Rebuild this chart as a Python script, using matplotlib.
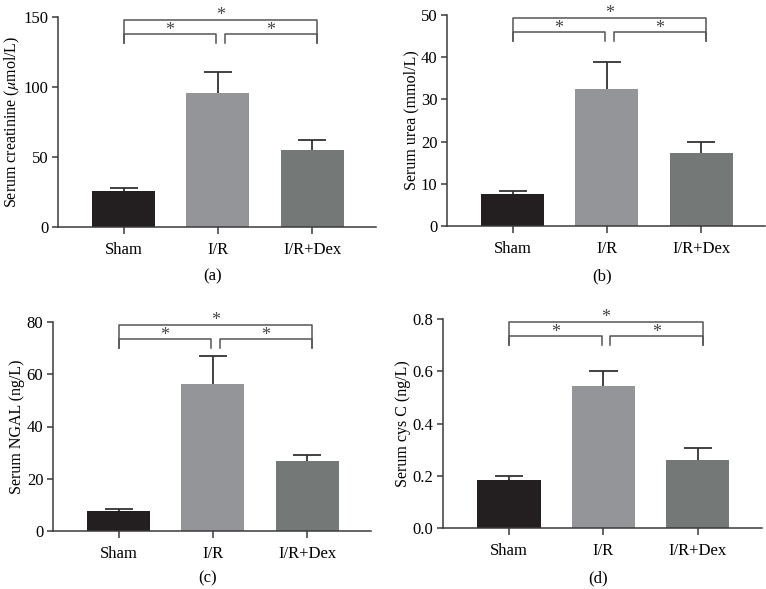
import matplotlib
matplotlib.use('Agg')
import matplotlib.pyplot as plt

plt.rcParams['font.family'] = ['Liberation Serif', 'DejaVu Serif']
plt.rcParams['mathtext.fontset'] = 'stix'

# groups and bar colours
groups = ['Sham', 'I/R', 'I/R+Dex']
colors = ['#231f20', '#939598', '#747978']

# mean values and upper error (SD)
creat_mean = [26, 95.5, 55]
creat_err = [2, 15, 7]
urea_mean = [7.7, 32.5, 17.3]
urea_err = [0.7, 6.3, 2.7]
ngal_mean = [7.8, 56.2, 26.8]
ngal_err = [0.8, 10.8, 2.1]
cysc_mean = [0.182, 0.545, 0.262]
cysc_err = [0.016, 0.055, 0.046]

ylabels = ['Serum creatinine ($\\mu$mol/L)', 'Serum urea (mmol/L)',
           'Serum NGAL (ng/L)', 'Serum cys C (ng/L)']
ylims = [(0, 150), (0, 50), (0, 80), (0, 0.8)]
yticks = [[0, 50, 100, 150], [0, 10, 20, 30, 40, 50],
          [0, 20, 40, 60, 80], [0.0, 0.2, 0.4, 0.6, 0.8]]
yticklabels = [None, None, None, ['0.0', '0.2', '0.4', '0.6', '0.8']]
panel_tags = ['(a)', '(b)', '(c)', '(d)']

means = [creat_mean, urea_mean, ngal_mean, cysc_mean]
errs = [creat_err, urea_err, ngal_err, cysc_err]

W, H = 766, 589
# axes boxes in pixels: left, x-axis y, top y, right
boxes = [(58, 227, 17, 376), (447, 226, 15, 765),
         (53, 531, 322, 371), (443, 528, 319, 762)]
tag_y = [276, 276, 578, 578]

fig = plt.figure(figsize=(W / 100, H / 100), dpi=100)
axcol = '#3a3a3a'
fs = 12

for i in range(4):
    l, b, t, r = boxes[i]
    ax = fig.add_axes([l / W, (H - b) / H, (r - l) / W, (b - t) / H])
    x = list(range(len(groups)))
    top = [m + e for m, e in zip(means[i], errs[i])]
    # upper error bars only, drawn behind the bars
    ax.vlines(x, means[i], top, color='#333333', lw=1.3, zorder=1)
    ax.hlines(top, [v - 0.15 for v in x], [v + 0.15 for v in x],
              color='#333333', lw=1.3, zorder=1)
    ax.bar(x, means[i], width=0.67, color=colors, zorder=2)
    ax.set_xlim(-0.7, 2.68)
    ax.set_ylim(*ylims[i])
    ax.set_yticks(yticks[i])
    if yticklabels[i] is not None:
        ax.set_yticklabels(yticklabels[i])
    ax.set_xticks(x)
    ax.set_xticklabels(groups)
    ax.set_ylabel(ylabels[i], fontsize=11.5, labelpad=1)
    ax.tick_params(axis='both', labelsize=fs, color=axcol, width=1.1,
                   length=4, pad=3)
    ax.tick_params(axis='x', length=5, pad=6)
    for side in ['top', 'right']:
        ax.spines[side].set_visible(False)
    for side in ['left', 'bottom']:
        ax.spines[side].set_color(axcol)
        ax.spines[side].set_linewidth(1.1)

    # significance brackets (axes fraction in y)
    tr = ax.get_xaxis_transform()
    bc = '#555555'
    for x0, x1, yb, ys in [(0, 0.98, 0.92, 0.895), (1.07, 2.05, 0.92, 0.895),
                           (0, 2.05, 0.988, 0.965)]:
        ax.plot([x0, x0, x1, x1], [0.876, yb, yb, 0.876], color=bc,
                lw=1.1, transform=tr, clip_on=False)
        ax.text((x0 + x1) / 2, ys, '*', transform=tr, ha='center',
                va='bottom', fontsize=13, color='#444444')

    fig.text(((l + r) / 2 - 4) / W, 1 - tag_y[i] / H, panel_tags[i],
             ha='center', va='center', fontsize=fs)

fig.savefig('out.png', dpi=100)
